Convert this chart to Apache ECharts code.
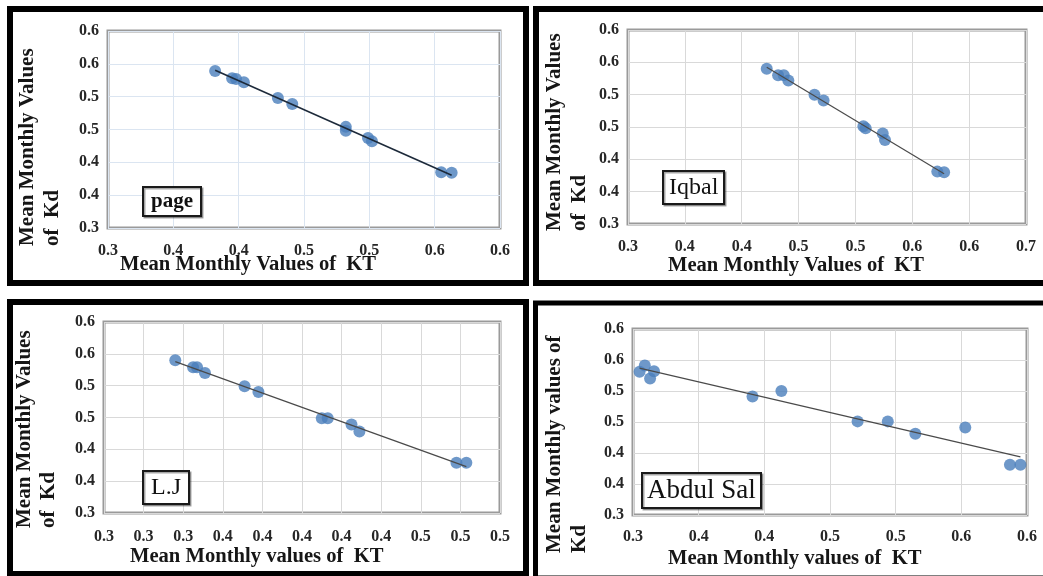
<!DOCTYPE html>
<html>
<head>
<meta charset="utf-8">
<script src="https://cdn.jsdelivr.net/npm/echarts/dist/echarts.min.js"></script>
<style>
html,body{margin:0;padding:0;background:#fff;}
#chart{width:1043px;height:576px;}
</style>
</head>
<body>
<div id="chart"></div>
<script>
// ---- data ----
var pageKT = [0.382,0.395,0.398,0.404,0.430,0.441,0.482,0.482,0.499,0.502,0.555,0.563];
var pageKd = [0.539,0.528,0.527,0.522,0.498,0.489,0.454,0.448,0.437,0.432,0.385,0.384];

var iqbalKT = [0.422,0.432,0.437,0.441,0.464,0.472,0.507,0.509,0.524,0.526,0.572,0.578];
var iqbalKd = [0.540,0.530,0.530,0.522,0.500,0.491,0.451,0.448,0.440,0.430,0.381,0.380];

var ljKT = [0.336,0.345,0.347,0.351,0.371,0.378,0.410,0.413,0.425,0.429,0.478,0.483];
var ljKd = [0.540,0.529,0.529,0.520,0.499,0.490,0.449,0.449,0.439,0.428,0.379,0.379];

var abdulKT = [0.305,0.309,0.313,0.316,0.391,0.413,0.471,0.494,0.515,0.553,0.587,0.595];
var abdulKd = [0.531,0.541,0.520,0.532,0.491,0.500,0.451,0.451,0.431,0.441,0.381,0.381];

// tick labels as printed in the reference (one decimal, Excel rounding)
var kdTicks    = ['0.3','0.4','0.4','0.5','0.5','0.6','0.6'];
var pageTicks  = ['0.3','0.4','0.4','0.5','0.5','0.6','0.6'];
var iqbalTicks = ['0.3','0.4','0.4','0.5','0.5','0.6','0.6','0.7'];
var ljTicks    = ['0.3','0.3','0.3','0.4','0.4','0.4','0.4','0.4','0.5','0.5','0.5'];
var abdulTicks = ['0.3','0.4','0.4','0.5','0.5','0.6','0.6'];

var panelNames = ['page','Iqbal','L.J','Abdul Sal'];

// ---- helpers ----
function pairs(xs, ys){ return xs.map(function(x,i){ return [x, ys[i]]; }); }
function fit(xs, ys){
  var n = xs.length, mx = 0, my = 0, sxy = 0, sxx = 0, i;
  for(i=0;i<n;i++){ mx += xs[i]; my += ys[i]; }
  mx /= n; my /= n;
  for(i=0;i<n;i++){ sxy += (xs[i]-mx)*(ys[i]-my); sxx += (xs[i]-mx)*(xs[i]-mx); }
  var b = sxy/sxx, a = my - b*mx;
  var x0 = Math.min.apply(null, xs), x1 = Math.max.apply(null, xs);
  return [[x0, a+b*x0],[x1, a+b*x1]];
}
function labelsFrom(arr){ return function(v, i){ return arr[i] !== undefined ? arr[i] : ''; }; }

var SERIF = '"Liberation Serif","Times New Roman",serif';
var tickStyle = {fontFamily: SERIF, fontWeight: 'bold', fontSize: 16, color: '#262626'};
var blue = '#4a7ebb';

var grids = [
  {left:108, top:31,  width:392, height:197},
  {left:628, top:30,  width:398, height:194},
  {left:104, top:322, width:396, height:191},
  {left:633, top:329, width:394, height:186}
];
grids.forEach(function(g){ g.show = true; g.borderColor = '#9a9a9a'; g.borderWidth = 3; g.backgroundColor = '#fff'; g.containLabel = false; });

var gridColors = ['#dbe5f1','#d9d9d9','#d9d9d9','#d9d9d9'];
var xSpecs = [
  {min:0.30, max:0.60, interval:0.05, ticks:pageTicks,  margin:15},
  {min:0.30, max:0.65, interval:0.05, ticks:iqbalTicks, margin:15},
  {min:0.30, max:0.50, interval:0.02, ticks:ljTicks,    margin:16},
  {min:0.30, max:0.60, interval:0.05, ticks:abdulTicks, margin:14}
];

var xAxis = xSpecs.map(function(s, i){
  return {
    type:'value', gridIndex:i, min:s.min, max:s.max, interval:s.interval,
    axisLine:{show:false}, axisTick:{show:false},
    splitLine:{show:true, lineStyle:{color:gridColors[i], width:1}},
    axisLabel:Object.assign({formatter:labelsFrom(s.ticks), margin:s.margin, showMinLabel:true, showMaxLabel:true}, tickStyle)
  };
});
var yAxis = [0,1,2,3].map(function(i){
  return {
    type:'value', gridIndex:i, min:0.30, max:0.60, interval:0.05,
    axisLine:{show:false}, axisTick:{show:false},
    splitLine:{show:true, lineStyle:{color:gridColors[i], width:1}},
    axisLabel:Object.assign({formatter:labelsFrom(kdTicks), margin:9, showMinLabel:true, showMaxLabel:true}, tickStyle)
  };
});

var sets = [[pageKT,pageKd],[iqbalKT,iqbalKd],[ljKT,ljKd],[abdulKT,abdulKd]];
var lineColors = ['#1d2a3a','#4a4a4a','#4a4a4a','#4a4a4a'];
var lineWidths = [1.6,1.2,1.2,1.2];
var series = [];
sets.forEach(function(s, i){
  series.push({type:'scatter', xAxisIndex:i, yAxisIndex:i, data:pairs(s[0], s[1]),
    symbol:'circle', symbolSize:12, itemStyle:{color:blue}, z:2, silent:true});
});
sets.forEach(function(s, i){
  series.push({type:'line', xAxisIndex:i, yAxisIndex:i, data:fit(s[0], s[1]),
    symbol:'none', lineStyle:{color:lineColors[i], width:lineWidths[i]}, z:3, silent:true, animation:false});
});

var titleBoxes = [
  {left:143, top:187, font:'bold', size:21, pad:[3,8,3,8]},
  {left:663, top:171, font:'normal', size:24, pad:[4,6,3,6]},
  {left:143, top:471, font:'normal', size:24, pad:[4,8,3,8]},
  {left:642, top:473, font:'normal', size:27, pad:[3,5,3,5]}
];
var titles = titleBoxes.map(function(t, i){
  return {text:panelNames[i], left:t.left, top:t.top, padding:t.pad,
    borderColor:'#1a1a1a', borderWidth:2, backgroundColor:'#fff',
    shadowColor:'rgba(0,0,0,0.35)', shadowOffsetX:1.5, shadowOffsetY:1.5, shadowBlur:0,
    textStyle:{fontFamily:SERIF, fontWeight:t.font, fontSize:t.size, color:'#111', lineHeight:t.size+2}};
});

function vtext(x, y, txt){
  return {type:'text', x:x, y:y, rotation:Math.PI/2, silent:true, z:10,
    style:{text:txt, font:'bold 21px ' + SERIF, fill:'#161616', align:'left', verticalAlign:'middle'}};
}
function htext(x, y, txt){
  return {type:'text', x:x, y:y, silent:true, z:10,
    style:{text:txt, font:'bold 20.6px ' + SERIF, fill:'#161616', align:'left', verticalAlign:'middle'}};
}
function frame(x, y, w, h, lw){
  return {type:'rect', silent:true, z:20, shape:{x:x, y:y, width:w, height:h},
    style:{fill:null, stroke:'#000', lineWidth:lw}};
}

var graphic = [
  frame(10, 9, 516, 274, 6),
  frame(536, 9, 520, 274, 6),
  frame(10, 302, 516, 272, 6),
  frame(535.5, 303, 520, 275, 5),
  vtext(28, 246, 'Mean Monthly Values'),
  vtext(53, 246, 'of  Kd'),
  vtext(555, 231, 'Mean Monthly Values'),
  vtext(580, 231, 'of  Kd'),
  vtext(25, 528, 'Mean Monthly Values'),
  vtext(49, 528, 'of  Kd'),
  vtext(555, 553, 'Mean Monthly values of'),
  vtext(580, 553, 'Kd'),
  htext(120, 265, 'Mean Monthly Values of  KT'),
  htext(668, 266, 'Mean Monthly Values of  KT'),
  htext(130, 557, 'Mean Monthly values of  KT'),
  htext(668, 559, 'Mean Monthly values of  KT')
];

var chart = echarts.init(document.getElementById('chart'), null, {renderer:'canvas'});
chart.setOption({
  animation:false,
  backgroundColor:'#fff',
  title:titles,
  grid:grids,
  xAxis:xAxis,
  yAxis:yAxis,
  series:series,
  graphic:graphic
});
</script>
</body>
</html>
